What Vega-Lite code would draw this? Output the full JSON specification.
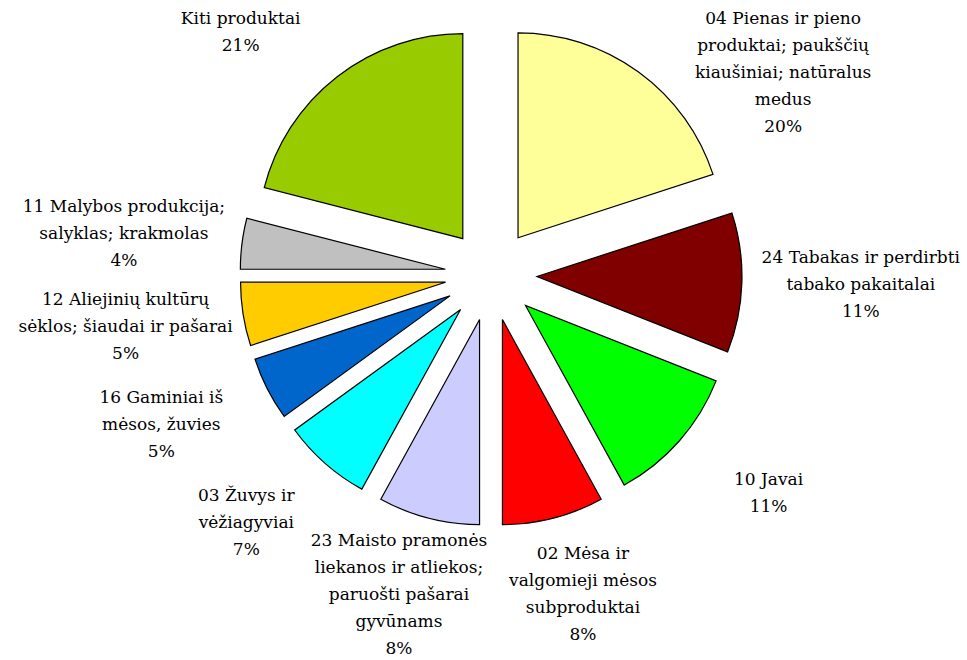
{
  "$schema": "https://vega.github.io/schema/vega-lite/v6.json",
  "width": 952,
  "height": 550,
  "padding": {"left": 15, "top": 0, "right": 0, "bottom": 110},
  "autosize": {"type": "none"},
  "background": "white",
  "config": {"view": {"stroke": null}},
  "data": {
    "values": [
      {"order": 1, "name": "04 Pienas", "pct": 20, "label": "04 Pienas ir pieno\nproduktai; paukščių\nkiaušiniai; natūralus\nmedus\n20%"},
      {"order": 2, "name": "24 Tabakas", "pct": 11, "label": "24 Tabakas ir perdirbti\ntabako pakaitalai\n11%"},
      {"order": 3, "name": "10 Javai", "pct": 11, "label": "10 Javai\n11%"},
      {"order": 4, "name": "02 Mėsa", "pct": 8, "label": "02 Mėsa ir\nvalgomieji mėsos\nsubproduktai\n8%"},
      {"order": 5, "name": "23 Maisto", "pct": 8, "label": "23 Maisto pramonės\nliekanos ir atliekos;\nparuošti pašarai\ngyvūnams\n8%"},
      {"order": 6, "name": "03 Žuvys", "pct": 7, "label": "03 Žuvys ir\nvėžiagyviai\n7%"},
      {"order": 7, "name": "16 Gaminiai", "pct": 5, "label": "16 Gaminiai iš\nmėsos, žuvies\n5%"},
      {"order": 8, "name": "12 Aliejinių", "pct": 5, "label": "12 Aliejinių kultūrų\nsėklos; šiaudai ir pašarai\n5%"},
      {"order": 9, "name": "11 Malybos", "pct": 4, "label": "11 Malybos produkcija;\nsalyklas; krakmolas\n4%"},
      {"order": 10, "name": "Kiti produktai", "pct": 21, "label": "Kiti produktai\n21%"}
    ]
  },
  "layer": [
    {
      "mark": {
        "type": "arc",
        "radius": 205,
        "stroke": "black",
        "strokeWidth": 1.2,
        "xOffset": {"expr": "46*sin(PI*(datum.pct_start+datum.pct_end)/100)"},
        "yOffset": {"expr": "-46*cos(PI*(datum.pct_start+datum.pct_end)/100)"}
      },
      "encoding": {
        "theta": {"field": "pct", "type": "quantitative", "stack": true, "scale": {"domain": [0, 100]}},
        "order": {"field": "order", "type": "quantitative"},
        "color": {
          "field": "name",
          "type": "nominal",
          "legend": null,
          "scale": {
            "domain": ["04 Pienas", "24 Tabakas", "10 Javai", "02 Mėsa", "23 Maisto", "03 Žuvys", "16 Gaminiai", "12 Aliejinių", "11 Malybos", "Kiti produktai"],
            "range": ["#FFFF99", "#800000", "#00FF00", "#FF0000", "#CCCCFF", "#00FFFF", "#0066CC", "#FFCC00", "#C0C0C0", "#99CC00"]
          }
        }
      }
    },
    {
      "mark": {
        "type": "text",
        "radius": 0,
        "font": "DejaVu Serif",
        "fontSize": 17,
        "lineHeight": 27,
        "lineBreak": "\n",
        "align": "center",
        "baseline": "middle",
        "color": "black",
        "dy": {"expr": "min(max(-330*cos(PI*(datum.pct_start+datum.pct_end)/100), length(split(datum.label,'\\n'))*13.5-270), 392-length(split(datum.label,'\\n'))*13.5) - (length(split(datum.label,'\\n'))-1)*13.5"},
        "dx": {"expr": "(sin(PI*(datum.pct_start+datum.pct_end)/100)<0?-1:1)*370*sqrt(max(0,1-pow(min(max(-330*cos(PI*(datum.pct_start+datum.pct_end)/100), length(split(datum.label,'\\n'))*13.5-270), 392-length(split(datum.label,'\\n'))*13.5)/330,2)))"}
      },
      "encoding": {
        "theta": {"field": "pct", "type": "quantitative", "stack": true, "scale": {"domain": [0, 100]}},
        "order": {"field": "order", "type": "quantitative"},
        "text": {"field": "label", "type": "nominal"}
      }
    }
  ]
}
